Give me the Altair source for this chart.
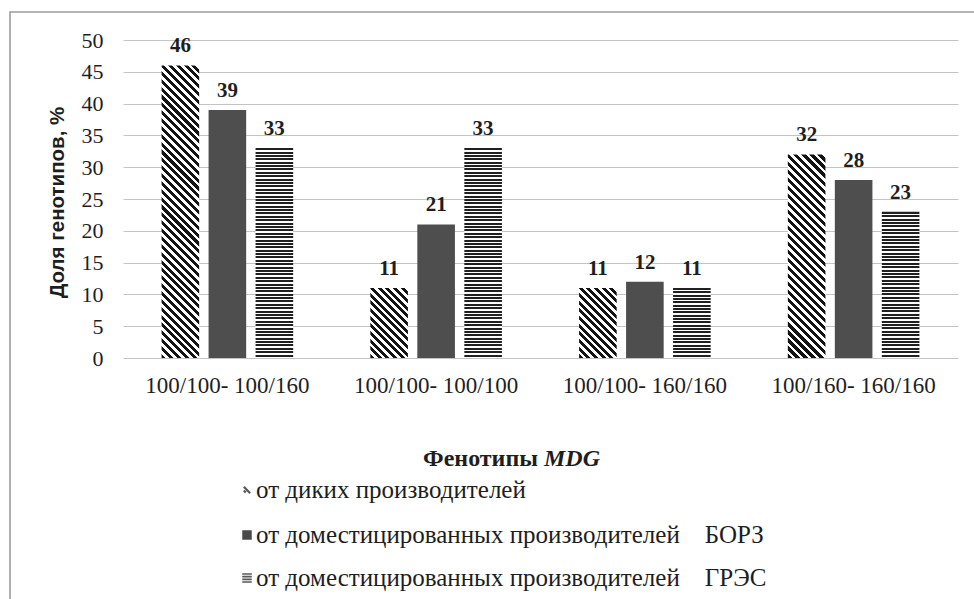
import math
import altair as alt

# ---------------- data ----------------
categories = ["100/100- 100/160", "100/100- 100/100", "100/100- 160/160", "100/160- 160/160"]
series = [
    "от диких производителей",
    "от доместицированных производителей\u00a0\u00a0\u00a0\u00a0БОРЗ",
    "от доместицированных производителей\u00a0\u00a0\u00a0\u00a0ГРЭС",
]
wild = [46, 11, 11, 32]
borz = [39, 21, 12, 28]
gres = [33, 33, 11, 23]
y_ticks = [0, 5, 10, 15, 20, 25, 30, 35, 40, 45, 50]

# ---------------- geometry ----------------
PLOT_W, PLOT_H = 835, 318
Y_MAX = 50
PX_PER_UNIT = PLOT_H / Y_MAX
X_PAD_IN, X_PAD_OUT = 0.3246, 0.1623
OFF_PAD_IN, OFF_PAD_OUT = 0.2, 0.1
band = PLOT_W / (len(categories) - X_PAD_IN + 2 * X_PAD_OUT) * (1 - X_PAD_IN)
BAR_W = band / (len(series) - OFF_PAD_IN + 2 * OFF_PAD_OUT) * (1 - OFF_PAD_IN)

SERIF = "'Liberation Serif', 'Times New Roman', serif"
SANS = "'Liberation Sans', Arial, sans-serif"
INK = "#1e1e1e"


def stripe_stops(n, dark_frac, dark="#141414", light="#ffffff"):
    stops = []
    for k in range(n):
        a = round(k / n, 5)
        b = round((k + dark_frac) / n, 5)
        c = round((k + 1) / n, 5)
        stops += [
            {"offset": a, "color": dark},
            {"offset": b, "color": dark},
            {"offset": b, "color": light},
            {"offset": c, "color": light},
        ]
    return stops


def diagonal_fill(v, period=5.6):
    h = v * PX_PER_UNIT
    w = BAR_W
    a = w * (w + h) / (w * w + h * h)
    n = max(1, round((w + h) / (period * math.sqrt(2))))
    return {"gradient": "linear", "x1": 0, "y1": 1, "x2": a, "y2": 1 - a * h / w,
            "stops": stripe_stops(n, 0.52)}


def horizontal_fill(v, period=3.4):
    h = v * PX_PER_UNIT
    n = max(1, round(h / period))
    return {"gradient": "linear", "x1": 0, "y1": 0, "x2": 0, "y2": 1,
            "stops": stripe_stops(n, 0.6, dark="#202020")}


def checker_fill(v):
    return "#4e4e4e"


fills = [diagonal_fill, checker_fill, horizontal_fill]
records = []
for s_idx, vals in enumerate([wild, borz, gres]):
    for c_idx, v in enumerate(vals):
        records.append({"cat": categories[c_idx], "series": series[s_idx],
                        "value": v, "grad": fills[s_idx](v)})

data = alt.Data(values=records)
one = alt.Data(values=[{"k": 1}])

x_axis = alt.Axis(title=None, labelAngle=0, domain=False, ticks=False,
                  labelFont=SERIF, labelFontSize=23, labelColor=INK,
                  labelPadding=16)
x_enc = alt.X("cat:N", sort=categories,
              scale=alt.Scale(paddingInner=X_PAD_IN, paddingOuter=X_PAD_OUT),
              axis=x_axis)
xoff_enc = alt.XOffset("series:N", sort=series,
                       scale=alt.Scale(paddingInner=OFF_PAD_IN, paddingOuter=OFF_PAD_OUT))
y_axis = alt.Axis(values=y_ticks, title="Доля генотипов, %", domain=False,
                  ticks=False, grid=True, gridColor="#c4c4c4", gridWidth=1,
                  labelOverlap=False, labelFont=SERIF, labelFontSize=22,
                  labelColor=INK, labelPadding=20, titleFont=SANS,
                  titleFontSize=20.5, titleFontWeight="bold", titleColor=INK,
                  titleX=-56, titleY=PLOT_H / 2 + 3)
y_enc = alt.Y("value:Q", scale=alt.Scale(domain=[0, Y_MAX], nice=False), axis=y_axis)

bars = alt.Chart(data).mark_bar(strokeWidth=0).encode(
    x=x_enc, xOffset=xoff_enc, y=y_enc,
    fill=alt.Fill("grad:N", scale=None),
)

labels = alt.Chart(data).mark_text(
    font=SERIF, fontSize=21, fontWeight="bold", baseline="alphabetic",
    dy=-13, color=INK,
).encode(x=x_enc, xOffset=xoff_enc, y=y_enc, text="value:Q")

frame = alt.Chart(one).mark_rect(fillOpacity=0, stroke="#9c9c9c", strokeWidth=1.6).encode(
    x=alt.value(-113), x2=alt.value(900), y=alt.value(-28), y2=alt.value(600)
)

title_a = alt.Chart(one).mark_text(
    text="Фенотипы", font=SERIF, fontSize=24, fontWeight="bold", align="right",
    baseline="alphabetic", color=INK,
).encode(x=alt.value(415), y=alt.value(426))
title_b = alt.Chart(one).mark_text(
    text="MDG", font=SERIF, fontSize=24, fontWeight="bold", fontStyle="italic",
    align="left", baseline="alphabetic", color=INK,
).encode(x=alt.value(421), y=alt.value(426))

legend_rows = [450, 495, 538]
leg_layers = []
for i, name in enumerate(series):
    d = alt.Data(values=[{"s": name}])
    leg_layers.append(
        alt.Chart(d).mark_text(font=SERIF, fontSize=25, align="left", baseline="middle",
                               color=INK).encode(
            x=alt.value(133), y=alt.value(legend_rows[i]), text="s:N")
    )

sym1 = alt.Chart(one).mark_point(shape="M-1,-1L1,1M-1,0.2L-0.4,0.8", filled=False,
                                 stroke="#111", strokeWidth=2.2, size=40).encode(
    x=alt.value(124), y=alt.value(legend_rows[0]))
sym2 = alt.Chart(one).mark_square(size=90, color="#4a4a4a", opacity=1).encode(
    x=alt.value(124), y=alt.value(legend_rows[1]))
sym3 = alt.Chart(one).mark_point(shape="M-1,-0.85H1M-1,-0.28H1M-1,0.28H1M-1,0.85H1",
                                 filled=False, stroke="#111", strokeWidth=1.6,
                                 size=90).encode(
    x=alt.value(124), y=alt.value(legend_rows[2]))

chart = alt.layer(frame, bars, labels, title_a, title_b, sym1, sym2, sym3,
                  *leg_layers).properties(
    width=PLOT_W, height=PLOT_H,
    autosize=alt.AutoSizeParams(type="none"),
    padding={"left": 123, "top": 40, "right": 16, "bottom": 241},
    background="#ffffff",
).configure_view(stroke=None)

chart.save("out.html", embed_options={"renderer": "svg", "actions": False})
